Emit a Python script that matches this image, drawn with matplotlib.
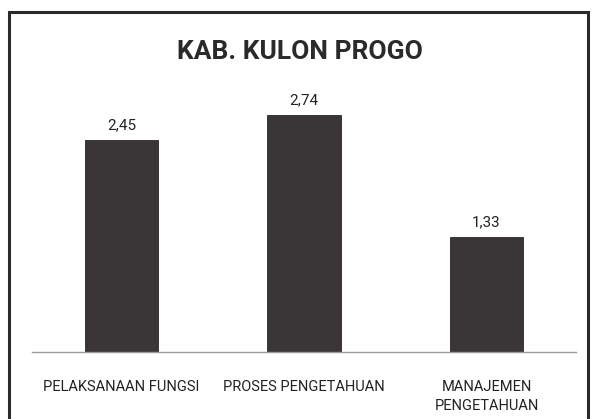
import matplotlib
matplotlib.use("Agg")
import matplotlib.pyplot as plt
from matplotlib.patches import Rectangle

categories = ["PELAKSANAAN FUNGSI", "PROSES PENGETAHUAN", "MANAJEMEN\nPENGETAHUAN"]
values = [2.45, 2.74, 1.33]
value_labels = ["2,45", "2,74", "1,33"]
title = "KAB. KULON PROGO"

font = ["Roboto", "DejaVu Sans"]

fig = plt.figure(figsize=(5.93, 4.19), dpi=100)
fig.patch.set_facecolor("white")

# outer frame
W, H = 593, 419
fig.patches.append(Rectangle((8.5 / W, -0.05), (588 - 8.5) / W, 1.05 - 12.5 / H,
                             transform=fig.transFigure, fill=False,
                             edgecolor="#2a2a2a", linewidth=2.2))

ax = fig.add_axes([32 / W, 1 - 352 / H, (576 - 32) / W, (352 - 80) / H])
x = list(range(len(categories)))
ax.bar(x, values, width=0.4, color="#3a3536", edgecolor="#2a2626", linewidth=0.6)
ax.set_xlim(-0.49, 2.49)
ax.set_ylim(0, 3.15)
for xi, v, lab in zip(x, values, value_labels):
    ax.text(xi, v + 0.09, lab, ha="center", va="bottom", fontsize=11,
            family=font, color="#222222")
ax.set_xticks(x)
ax.set_xticklabels(categories, family=font, fontsize=10.5, color="#222222",
                   linespacing=1.5)
ax.tick_params(axis="x", length=0, pad=20)
ax.set_yticks([])
for s in ["top", "right", "left"]:
    ax.spines[s].set_visible(False)
ax.spines["bottom"].set_color("#9a9a9a")
ax.spines["bottom"].set_linewidth(1.0)

fig.text(299.5 / W, 1 - 52 / H, title, ha="center", va="center", fontsize=19,
         fontweight="bold", family=font, color="#2a2a2a")

fig.savefig("out.png", dpi=100)
